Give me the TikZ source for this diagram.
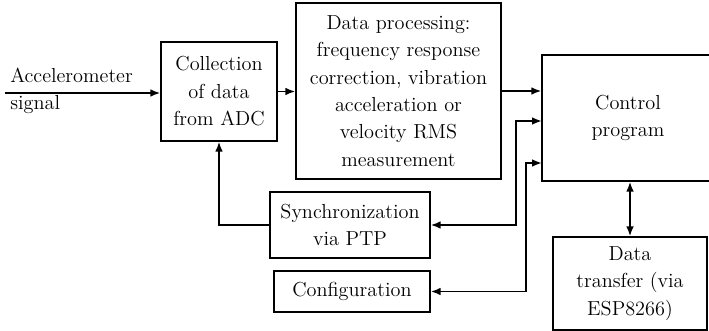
\documentclass[tikz,border=0pt]{standalone}
\usepackage{fontspec}
\usetikzlibrary{arrows.meta}

\newcommand{\pxu}{0.7pt}

\begin{document}
\begin{tikzpicture}[x=0.7pt,y=-0.7pt,
        block/.style={draw, line width=0.9pt, align=center, inner sep=0pt,
            font=\fontsize{14.2}{19.2}\selectfont},
        link/.style={line width=1.3pt, -{Latex[length=7pt,width=5.4pt]}},
        both/.style={line width=1.3pt, {Latex[length=7pt,width=5.4pt]}-{Latex[length=7pt,width=5.4pt]}}]
            \useasboundingbox (0,0) rectangle (709,331);
            % blocks
            \node[block, minimum width=116*\pxu, minimum height=99*\pxu] (collect) at (219,91.5)
                {Collection\\of data\\from ADC};
            \node[block, minimum width=205*\pxu, minimum height=176*\pxu] (proc) at (398.5,91)
                {Data processing:\\frequency response\\correction, vibration\\acceleration or\\velocity RMS\\measurement};
            \node[block, minimum width=172*\pxu, minimum height=126*\pxu] (ctrl) at (628,118)
                {Control\\program};
            \node[block, minimum width=160*\pxu, minimum height=66*\pxu] (sync) at (350,225)
                {Synchronization\\via PTP};
            \node[block, minimum width=156*\pxu, minimum height=41*\pxu] (config) at (352,291.5)
                {Configuration};
            \node[block, minimum width=154*\pxu, minimum height=93*\pxu] (xfer) at (630,283.5)
                {Data\\transfer (via\\ESP8266)};
            % input signal
            \node[align=left, anchor=west, inner sep=0pt, font=\fontsize{14.2}{19.2}\selectfont] (acc) at (10,91)
                {Accelerometer\\signal};
            \coordinate (src) at (5,93);
            % inputs of the control program
            \coordinate (in2) at (542,121);
            \coordinate (in3) at (542,163);
            % connectors
            \draw[link] (src) -- (src -| collect.west);
            \draw[link] (collect.east) -- (collect.east -| proc.west);
            \draw[link] (proc.east) -- (proc.east -| ctrl.west);
            \draw[link] (sync.west) -| (collect.south);
            \draw[both] (sync.east) -- ++(85,0) |- (in2);
            \draw[both] (config.east) -- ++(95,0) |- (in3);
            \draw[both] (ctrl.south -| xfer.north) -- (xfer.north);
        \end{tikzpicture}
\end{document}
